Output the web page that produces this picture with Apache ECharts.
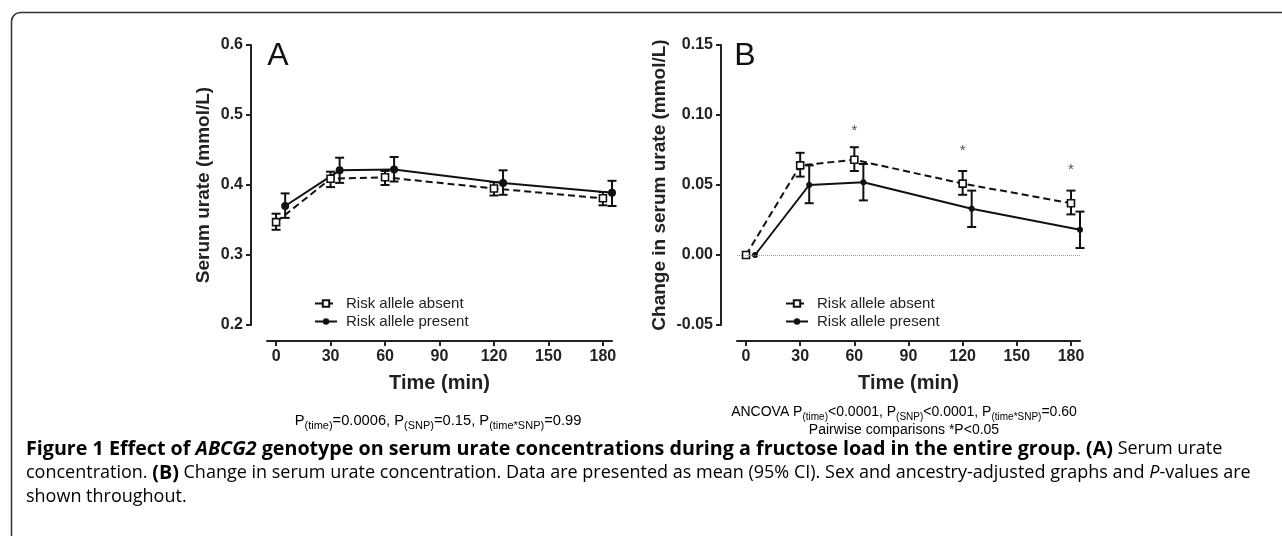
<!DOCTYPE html>
<html>
<head>
<meta charset="utf-8">
<script src="https://cdn.jsdelivr.net/npm/echarts@6/dist/echarts.min.js"></script>
<style>
  html, body { margin: 0; padding: 0; background: #fff; }
  #chart-container { width: 1282px; height: 536px; }
</style>
</head>
<body>
<div id="chart-container"></div>
<script>
// time points (present group is drawn shifted by 5 min, as in the original)
var timesAbsent = [0, 30, 60, 120, 180];
var timesPresent = [5, 35, 65, 125, 185];
var xTicks = [0, 30, 60, 90, 120, 150, 180];

// panel A: serum urate (mmol/L), mean and 95% CI
var aAbsentMean = [0.347, 0.409, 0.411, 0.395, 0.381];
var aAbsentLow = [0.336, 0.397, 0.400, 0.385, 0.371];
var aAbsentHigh = [0.359, 0.419, 0.420, 0.404, 0.390];
var aPresentMean = [0.370, 0.421, 0.422, 0.403, 0.389];
var aPresentLow = [0.353, 0.403, 0.405, 0.386, 0.370];
var aPresentHigh = [0.388, 0.439, 0.440, 0.421, 0.406];

// panel B: change in serum urate (mmol/L)
var bAbsentMean = [0, 0.064, 0.068, 0.051, 0.037];
var bAbsentLow = [0, 0.056, 0.060, 0.043, 0.029];
var bAbsentHigh = [0, 0.073, 0.077, 0.060, 0.046];
var bPresentMean = [0, 0.050, 0.052, 0.033, 0.018];
var bPresentLow = [0, 0.037, 0.039, 0.020, 0.005];
var bPresentHigh = [0, 0.064, 0.065, 0.046, 0.031];

// pairwise significance stars in panel B
var starTimes = [60, 120, 180];
var starValues = [0.089, 0.0745, 0.061];

var seriesNames = ["Risk allele absent", "Risk allele present"];

var ink = "#111";
var axisFont = "Liberation Sans";

function zip(xs, ys) {
  return xs.map(function (x, i) { return [x, ys[i]]; });
}
function zip3(xs, lo, hi) {
  return xs.map(function (x, i) { return [x, lo[i], hi[i]]; });
}

function errorBars(capHalf) {
  return function (params, api) {
    var x = api.value(0), lo = api.value(1), hi = api.value(2);
    if (lo === hi) return null;
    var pLo = api.coord([x, lo]);
    var pHi = api.coord([x, hi]);
    var st = { stroke: ink, lineWidth: 2 };
    return {
      type: "group",
      children: [
        { type: "line", shape: { x1: pLo[0], y1: pLo[1], x2: pHi[0], y2: pHi[1] }, style: st },
        { type: "line", shape: { x1: pLo[0] - capHalf, y1: pLo[1], x2: pLo[0] + capHalf, y2: pLo[1] }, style: st },
        { type: "line", shape: { x1: pHi[0] - capHalf, y1: pHi[1], x2: pHi[0] + capHalf, y2: pHi[1] }, style: st }
      ]
    };
  };
}

function panelSeries(idx, absMean, absLo, absHi, preMean, preLo, preHi, dotSize) {
  return [
    {
      type: "custom", xAxisIndex: idx, yAxisIndex: idx, z: 1,
      renderItem: errorBars(4.5), encode: { x: 0, y: [1, 2] },
      data: zip3(timesAbsent, absLo, absHi), silent: true
    },
    {
      type: "custom", xAxisIndex: idx, yAxisIndex: idx, z: 1,
      renderItem: errorBars(4.5), encode: { x: 0, y: [1, 2] },
      data: zip3(timesPresent, preLo, preHi), silent: true
    },
    {
      name: seriesNames[0], type: "line", xAxisIndex: idx, yAxisIndex: idx, z: 3,
      data: zip(timesAbsent, absMean),
      symbol: "rect", symbolSize: 7, showAllSymbol: true,
      itemStyle: { color: "#fff", borderColor: ink, borderWidth: 1.6 },
      lineStyle: { color: ink, width: 2, type: [7, 4] }
    },
    {
      name: seriesNames[1], type: "line", xAxisIndex: idx, yAxisIndex: idx, z: 3,
      data: zip(timesPresent, preMean),
      symbol: "circle", symbolSize: dotSize, showAllSymbol: true,
      itemStyle: { color: ink },
      lineStyle: { color: ink, width: 2 }
    }
  ];
}

function makeXAxis(i) {
  return {
    gridIndex: i, type: "value", min: -5, max: 185, offset: 16,
    axisLine: { show: true, onZero: false, lineStyle: { color: "#222", width: 2 } },
    axisTick: { show: true, customValues: xTicks, length: 5, lineStyle: { color: "#222", width: 2 } },
    axisLabel: {
      customValues: xTicks, margin: 8,
      fontFamily: axisFont, fontWeight: "bold", fontSize: 16, color: "#222"
    },
    splitLine: { show: false },
    name: "Time (min)", nameLocation: "middle", nameGap: 32,
    nameTextStyle: { fontFamily: axisFont, fontWeight: "bold", fontSize: 20, color: "#222" }
  };
}

function makeYAxis(i, min, max, step, digits, name, gap) {
  return {
    gridIndex: i, type: "value", min: min, max: max, interval: step, offset: 16,
    axisLine: { show: true, onZero: false, lineStyle: { color: "#222", width: 2 } },
    axisTick: { show: true, length: 5, lineStyle: { color: "#222", width: 2 } },
    axisLabel: {
      margin: 8, fontFamily: axisFont, fontWeight: "bold", fontSize: 16, color: "#222",
      formatter: function (v) { return v.toFixed(digits); }
    },
    splitLine: { show: false },
    name: name, nameLocation: "middle", nameGap: gap,
    nameTextStyle: { fontFamily: axisFont, fontWeight: "bold", fontSize: 19, color: "#222" }
  };
}

function legendAt(left) {
  return {
    left: left, top: 291, orient: "vertical", itemGap: 3,
    itemWidth: 22, itemHeight: 8, data: seriesNames, selectedMode: false,
    textStyle: { fontFamily: axisFont, fontSize: 15, color: "#222", padding: [0, 0, 0, 4] }
  };
}

var seriesB = panelSeries(1, bAbsentMean, bAbsentLow, bAbsentHigh, bPresentMean, bPresentLow, bPresentHigh, 6);
seriesB[2].markLine = {
  silent: true, symbol: "none", label: { show: false },
  lineStyle: { color: "#999", type: "dotted", width: 1 },
  data: [{ yAxis: 0 }]
};
seriesB.push({
  type: "scatter", xAxisIndex: 1, yAxisIndex: 1, z: 4, silent: true,
  data: zip(starTimes, starValues), symbolSize: 1, itemStyle: { color: "rgba(0,0,0,0)" },
  label: { show: true, position: "inside", formatter: "*", fontSize: 15, color: "#222", fontFamily: axisFont }
});

function pRich(n, s) {
  return {
    n: { fontFamily: axisFont, fontSize: n, color: "#222", lineHeight: 20, verticalAlign: "middle" },
    s: { fontFamily: axisFont, fontSize: s, color: "#222", lineHeight: 20, verticalAlign: "bottom" }
  };
}

var capBase = { fontFamily: "Open Sans", fontSize: 18, color: "#231f20", lineHeight: 24 };
function capStyle(extra) {
  var o = {};
  for (var k in capBase) o[k] = capBase[k];
  for (var j in extra) o[j] = extra[j];
  return o;
}

var captionText =
  "{b|Figure 1 Effect of }{bi|ABCG2}{b| genotype on serum urate concentrations during a fructose load in the entire group. (A)}{r| Serum urate}\n" +
  "{r|concentration. }{b|(B)}{r| Change in serum urate concentration. Data are presented as mean (95% CI). Sex and ancestry-adjusted graphs and }{i|P}{r|-values are}\n" +
  "{r|shown throughout.}";

var option = {
  animation: false,
  backgroundColor: "#fff",
  grid: [
    { left: 267, top: 45, width: 345, height: 280 },
    { left: 737, top: 45, width: 343, height: 280 }
  ],
  xAxis: [makeXAxis(0), makeXAxis(1)],
  yAxis: [
    makeYAxis(0, 0.2, 0.6, 0.1, 1, "Serum urate (mmol/L)", 38),
    makeYAxis(1, -0.05, 0.15, 0.05, 2, "Change in serum urate (mmol/L)", 52)
  ],
  legend: [legendAt(309), legendAt(780)],
  series: panelSeries(0, aAbsentMean, aAbsentLow, aAbsentHigh, aPresentMean, aPresentLow, aPresentHigh, 8).concat(seriesB),
  graphic: [
    {
      type: "rect", left: 9, top: 10, silent: true,
      shape: { width: 1320, height: 600, r: 9 },
      style: { fill: "none", stroke: "#333", lineWidth: 1.5 }
    },
    {
      type: "text", x: 278, y: 56, silent: true,
      style: { text: "A", fontFamily: axisFont, fontSize: 32, fill: ink, align: "center", verticalAlign: "middle" }
    },
    {
      type: "text", x: 745, y: 56, silent: true,
      style: { text: "B", fontFamily: axisFont, fontSize: 32, fill: ink, align: "center", verticalAlign: "middle" }
    },
    {
      type: "text", x: 438, y: 421, silent: true,
      style: {
        text: "{n|P}{s|(time)}{n|=0.0006, P}{s|(SNP)}{n|=0.15, P}{s|(time*SNP)}{n|=0.99}",
        rich: pRich(14.7, 11), align: "center", verticalAlign: "middle"
      }
    },
    {
      type: "text", x: 904, y: 412, silent: true,
      style: {
        text: "{n|ANCOVA P}{s|(time)}{n|<0.0001, P}{s|(SNP)}{n|<0.0001, P}{s|(time*SNP)}{n|=0.60}",
        rich: pRich(14, 10), align: "center", verticalAlign: "middle"
      }
    },
    {
      type: "text", x: 904, y: 430, silent: true,
      style: {
        text: "{n|Pairwise comparisons *P<0.05}",
        rich: pRich(14, 10), align: "center", verticalAlign: "middle"
      }
    },
    {
      type: "text", x: 26, y: 437, silent: true,
      style: {
        text: captionText, align: "left", verticalAlign: "top",
        rich: {
          b: capStyle({ fontWeight: "bold", fontSize: 19.7 }),
          bi: capStyle({ fontWeight: "bold", fontStyle: "italic", fontSize: 19.7 }),
          r: capStyle({}),
          i: capStyle({ fontStyle: "italic" })
        }
      }
    }
  ]
};

var dom = document.getElementById("chart-container");
var myChart = echarts.init(dom, null, { renderer: "canvas" });
myChart.setOption(option);
window.addEventListener("resize", myChart.resize);
</script>
</body>
</html>
